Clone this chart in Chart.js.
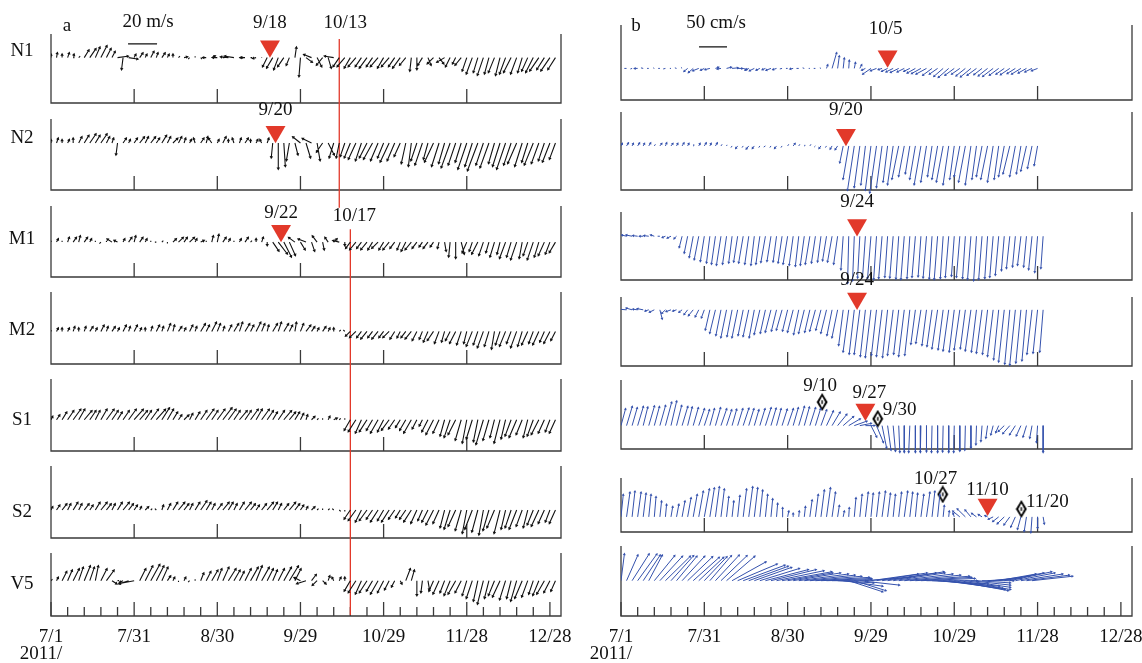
<!DOCTYPE html>
<html>
<head>
<meta charset="utf-8">
<title>Wind and current stick plots</title>
<script src="https://cdn.jsdelivr.net/npm/chart.js@4.4.1/dist/chart.umd.min.js"></script>
<style>
  html, body { margin: 0; padding: 0; background: #fff; }
  #page { position: relative; width: 1142px; height: 663px; overflow: hidden;
          font-family: 'Liberation Serif', 'Times New Roman', serif; color: #111; }
  #page canvas { position: absolute; top: 0; }
  .lbl { position: absolute; font-size: 19px; line-height: 1; white-space: nowrap;
         transform: translate(-50%, -50%); }
</style>
</head>
<body>
<div id="page">
  <canvas id="windChart"></canvas>
  <canvas id="curChart"></canvas>
</div>
<script>
// ---------- data ----------
const DAYS = 184;   // time axis: 7/1 .. 1/1
const STEP = 2;     // days between sticks
const tickDays = [0, 30, 60, 90, 120, 150, 180];
const tickLabels = ['7/1', '7/31', '8/30', '9/29', '10/29', '11/28', '12/28'];
const minorDays = [0, 6, 12, 18, 24, 30, 36, 42, 48, 54, 60, 66, 72, 78, 84, 90, 96, 102,
                   108, 114, 120, 126, 132, 138, 144, 150, 156, 162, 168, 174, 180];
const stations = ['N1', 'N2', 'M1', 'M2', 'S1', 'S2', 'V5'];

// wind (m/s), [u, v] every STEP days
const windN1 = [[0,2],[0.5,3],[0,2],[1,3],[0.5,2],[1,1],[3,5],[4,6],[3,7],[4,8],[3,6],[2,4],
  [7,1],[-1,-8],[6,-1],[1,2],[2,3],[1,2],[2,4],[1,3],[2,3],[1,2],[0,2],[1,1],
  [2,0.5],[-1,-1],[0,1],[1,-1],[-2,0],[2,1],[-3,0],[1,0],[-5,0.5],[-6,1],[2,0],[-3,0],[1,0],[-2,-0.5],[0,0.5],
  [-3,-6],[-4,-7],[-3,-8],[-4,-6],[-2,-5],[1,7],[-1,-13],[4,-3],[-5,2],[3,-6],[-4,-5],[2,-7],[-6,1],
  [-4,-6],[-5,-6],[-4,-7],[-5,-6],[-4,-6],[-5,-7],[-4,-6],[-5,-6],[-4,-7],[-5,-6],[-4,-6],[-5,-7],[-4,-5],
  [-1,-9],[0,-8],[-3,-5],[2,-5],[-4,-4],[3,-4],[-5,-3],[-3,-6],[-2,-4],[-4,-5],
  [-3,-9],[-4,-11],[-3,-10],[-4,-12],[-3,-11],[-4,-10],[-3,-12],[-4,-11],[-5,-10],[-4,-11],[-3,-10],
  [-4,-9],[-5,-10],[-6,-9],[-5,-8],[-6,-9],[-5,-8]];
const windN2 = [[0,2],[1,3],[0,2],[1,2],[0,3],[2,4],[3,5],[4,6],[3,5],[4,6],[2,4],[1,3],
  [-1,-8],[2,3],[1,2],[2,3],[3,4],[2,4],[3,4],[2,3],[3,5],[2,4],[3,3],[2,4],[1,3],
  [1,2],[-1,3],[2,3],[1,4],[-2,3],[1,2],[2,4],[0,2],[-1,3],[1,3],[2,3],[0,2],[1,2],[-1,2],[1,3],
  [-1,-10],[0,-18],[1,-16],[-2,-12],[2,-8],[-5,4],[3,-10],[-6,3],[2,-12],[-4,-6],[4,-8],[-3,-10],
  [-2,-10],[-3,-9],
  [-4,-10],[-5,-11],[-4,-12],[-5,-10],[-6,-11],[-5,-12],[-4,-10],[-6,-13],[-5,-12],[-4,-9],
  [-3,-14],[-2,-16],[-4,-12],[-5,-15],[-3,-11],[-6,-13],[-5,-16],[-4,-14],[-6,-17],[-5,-15],
  [-4,-13],[-6,-18],[-5,-16],[-7,-19],[-5,-15],[-6,-17],[-4,-14],[-5,-16],[-6,-18],[-5,-15],
  [-6,-14],[-5,-16],[-4,-13],[-6,-15],[-5,-14],[-4,-12],[-5,-13],[-4,-11]];
const windM1 = [[0,1],[1,2],[0,1],[1,3],[2,3],[1,4],[2,3],[1,2],[0,1],[-1,-1],
  [0,1],[-3,2],[-2,1],[1,2],[2,3],[1,4],[2,3],[1,2],[0,1],[-1,0],
  [1,1],[0,-1],[2,2],[3,3],[2,3],[3,3],[1,2],[2,1],[0,1],[1,4],
  [1,5],[2,3],[1,2],[0,1],[1,2],[2,3],[1,1],[0,2],[1,3],[0,-2],
  [4,-6],[6,-8],[5,-10],[4,-9],[-4,3],[3,-5],[-5,2],[2,-6],[-3,4],[1,-5],[-2,3],[2,2],[-4,1],[0,-2],
  [-3,-4],[-4,-5],[-3,-4],[-4,-5],[-3,-5],[-4,-4],[-3,-5],[-4,-5],[-3,-4],[-2,-5],
  [-3,-6],[-4,-5],[-3,-4],[-2,-3],[-3,-4],[-2,-3],[-1,-4],[1,-6],[-1,-10],[0,-11],
  [2,-8],[-3,-7],[-2,-6],[-4,-8],[-3,-9],[-2,-7],[-3,-10],[-2,-8],[-4,-11],[-3,-10],
  [-4,-12],[-2,-11],[-3,-9],[-4,-12],[-3,-10],[-4,-9],[-3,-8],[-4,-7]];
const windM2 = [[0,1],[1,2],[0,2],[1,2],[1,3],[0,2],[1,3],[2,3],[1,2],[2,4],
  [1,3],[2,3],[1,2],[2,4],[1,3],[2,4],[1,2],[0,2],[1,3],[2,4],
  [1,3],[2,5],[1,4],[2,3],[1,2],[2,4],[1,3],[3,5],[2,4],[3,6],
  [2,5],[1,3],[2,4],[3,5],[2,6],[3,5],[2,4],[3,6],[2,5],[1,4],
  [3,5],[2,6],[3,5],[2,4],[1,6],[2,5],[3,4],[2,3],[1,2],[2,3],
  [1,2],[0,2],[1,1],[-1,1],
  [-3,-3],[-4,-4],[-3,-4],[-4,-5],[-3,-4],[-4,-5],[-3,-4],[-4,-4],[-3,-5],[-2,-4],
  [-3,-4],[-4,-5],[-3,-6],[-2,-5],[-3,-7],[-4,-6],[-3,-8],[-2,-7],[-3,-6],[-4,-8],
  [-3,-9],[-2,-8],[-4,-10],[-3,-9],[-4,-11],[-3,-10],[-2,-12],[-3,-9],[-4,-10],[-3,-8],
  [-4,-11],[-3,-10],[-4,-9],[-3,-8],[-4,-9],[-3,-7],[-4,-8],[-3,-6]];
const windS1 = [[1,2],[2,3],[3,5],[4,6],[5,7],[4,7],[5,6],[4,6],[3,6],[4,7],
  [5,7],[4,6],[3,5],[4,6],[5,7],[6,7],[5,6],[4,6],[5,7],[6,7],
  [5,8],[4,7],[3,5],[2,3],[3,3],[2,4],[3,5],[4,6],[5,7],[4,6],
  [5,7],[6,8],[5,7],[4,6],[5,6],[4,6],[5,7],[4,7],[5,7],[4,6],
  [3,5],[4,6],[5,6],[4,5],[3,5],[2,4],[1,3],[2,2],[1,1],[0,1],
  [1,2],[2,1],[1,1],[0,1],
  [-4,-7],[-5,-8],[-4,-9],[-5,-8],[-4,-7],[-5,-9],[-4,-8],[-5,-7],[-4,-6],[-3,-5],
  [-4,-7],[-5,-9],[-3,-6],[-2,-4],[-4,-8],[-5,-10],[-4,-9],[-3,-11],[-4,-12],[-5,-10],
  [-4,-14],[-3,-16],[-4,-13],[-3,-15],[-5,-17],[-4,-14],[-3,-12],[-4,-16],[-3,-13],[-4,-11],
  [-5,-12],[-4,-10],[-3,-12],[-4,-11],[-5,-10],[-4,-9],[-3,-8],[-4,-9]];
const windS2 = [[1,2],[2,3],[3,4],[2,4],[3,5],[2,4],[3,4],[2,3],[3,5],[4,5],
  [3,4],[2,4],[3,5],[4,5],[3,4],[2,3],[1,2],[2,2],[1,1],[-1,1],
  [1,3],[2,4],[3,5],[4,5],[3,4],[2,4],[3,5],[4,6],[3,5],[2,4],
  [3,4],[4,5],[3,5],[2,4],[3,5],[4,5],[3,4],[2,3],[3,4],[4,5],
  [3,5],[2,4],[3,4],[4,5],[3,4],[2,3],[1,2],[2,2],[1,1],[0,1],
  [1,1],[-1,1],[1,-1],[0,-1],
  [-4,-6],[-5,-7],[-4,-8],[-5,-7],[-4,-6],[-5,-8],[-4,-7],[-5,-8],[-4,-6],[-3,-5],
  [-4,-6],[-5,-8],[-4,-9],[-3,-7],[-4,-8],[-5,-10],[-4,-9],[-3,-12],[-4,-13],[-5,-11],
  [-4,-14],[-3,-16],[-5,-13],[-4,-15],[-3,-17],[-4,-14],[-5,-12],[-4,-16],[-3,-13],[-4,-12],
  [-5,-13],[-4,-11],[-3,-12],[-4,-10],[-5,-11],[-4,-9],[-3,-8],[-4,-9]];
const windV5 = [[1,1],[1,2],[3,6],[3,7],[4,8],[3,9],[4,10],[3,9],[2,10],[4,8],[5,7],
  [3,-2],[1,0],[-2,-1],[-6,-2],[-10,-2],[4,8],[5,10],[6,11],[5,10],[4,9],[2,3],
  [1,2],[0,-1],[1,2],[-1,-1],[0,1],
  [2,5],[3,6],[4,7],[3,8],[4,9],[5,8],[4,7],[3,6],[4,8],[5,9],[4,10],
  [5,9],[4,8],[3,7],[4,8],[5,9],[6,10],[4,8],
  [-4,2],[-6,-2],[3,4],[-3,-3],[2,-2],[1,3],[-1,2],[1,2],[0,2],
  [-4,-7],[-5,-8],[-4,-9],[-5,-8],[-4,-7],[-5,-9],[-4,-8],[-3,-6],[-2,-4],[1,-2],
  [3,8],[2,7],[0,-10],[-1,-8],[1,-6],
  [-3,-7],[-4,-9],[-3,-8],[-4,-10],[-5,-9],[-4,-8],[-3,-10],[-4,-12],[-3,-14],[-4,-16],
  [-3,-12],[-4,-10],[-5,-11],[-4,-13],[-3,-12],[-4,-14],[-5,-12],[-4,-11],[-3,-9],[-4,-10],
  [-5,-9],[-4,-8],[-3,-7]];

// current (cm/s), [u, v] every STEP days
const curN1 = [[-3,1],[-4,0],[-3,-1],[-5,0],[-4,1],[-3,0],[-2,1],[-3,0],[-4,-1],[-2,0],[-3,1],[-2,2],
  [-6,-5],[-8,-7],[-10,-4],[-6,-3],[-8,-2],[5,2],[-6,-1],
  [8,2],[10,1],[8,0],[6,-2],[-6,-3],[-8,-4],[-6,-3],[-5,-2],[-8,-3],[-6,-2],[-4,-1],[-3,0],
  [-5,-1],[-4,0],[-3,1],[-2,0],[-3,0],[-2,1],
  [2,6],[8,28],[3,22],[2,18],[1,14],[2,10],[3,6],
  [-6,-3],[-14,-10],[-10,-4],[-6,-2],
  [-10,-5],[-12,-6],[-14,-7],[-12,-6],[-10,-5],[-14,-8],[-16,-9],[-18,-10],[-16,-12],[-14,-10],
  [-16,-14],[-18,-16],[-16,-12],[-14,-10],[-16,-13],[-18,-15],[-16,-12],[-14,-11],[-16,-13],[-18,-14],
  [-16,-12],[-14,-10],[-16,-11],[-14,-9],[-16,-10],[-14,-8],[-12,-6],[-10,-4]];
const curN2 = [[2,4],[3,5],[2,4],[3,5],[2,4],[3,5],[2,3],[3,4],[2,5],[3,4],
  [2,4],[3,5],[2,4],[1,3],[2,4],[3,5],[2,4],[3,5],[2,3],[1,2],
  [-2,-3],[-3,-4],[-2,-3],[-4,-5],[-3,-4],[-2,-3],[-3,-2],[-2,-3],[-3,-4],[-2,-3],
  [2,3],[3,4],[2,3],[1,2],[2,3],[-2,-2],[-3,-4],[-2,-3],[-3,-5],[-4,-6],
  [-6,-30],[-10,-60],[-12,-80],[-10,-75],[-8,-70],[-10,-80],[-12,-85],[-10,-75],[-8,-65],[-10,-70],
  [-12,-60],[-10,-55],[-8,-50],[-10,-60],[-12,-70],[-10,-65],[-8,-55],[-10,-60],[-12,-65],[-10,-70],
  [-8,-60],[-10,-55],[-12,-65],[-10,-70],[-8,-60],[-10,-55],[-12,-60],[-10,-65],[-8,-60],[-10,-55],
  [-12,-50],[-10,-55],[-8,-50],[-10,-45],[-8,-40],[-6,-35]];
const curM1 = [[-6,3],[-8,2],[-10,2],[-8,1],[-6,0],[-8,1],[-6,2],[-4,0],[-5,-2],[-6,-3],[-4,-4],
  [-5,-20],[-6,-30],[-7,-38],[-8,-42],[-7,-45],[-6,-48],[-7,-50],[-8,-52],[-7,-50],[-6,-48],
  [-7,-46],[-8,-48],[-7,-50],[-6,-52],[-7,-50],[-8,-47],[-7,-45],[-6,-46],[-7,-48],[-8,-50],
  [-7,-52],[-6,-54],[-7,-52],[-8,-50],[-7,-48],[-6,-46],[-7,-44],[-8,-46],[-7,-50],
  [-4,-60],[-2,-85],[-3,-80],[-4,-75],
  [-5,-74],[-6,-76],[-5,-78],[-6,-76],[-5,-74],[-6,-75],[-5,-77],[-6,-78],[-5,-76],[-6,-74],
  [-5,-73],[-6,-75],[-5,-77],[-6,-78],[-5,-76],[-6,-74],[-5,-72],[-6,-74],[-5,-76],[-6,-78],
  [-5,-80],[-6,-78],[-5,-76],[-6,-74],
  [-6,-70],[-5,-62],[-6,-58],[-5,-55],[-6,-52],[-5,-55],[-6,-60],[-5,-65],[-4,-58]];
const curM2 = [[-10,2],[-12,1],[-10,3],[-8,1],[-10,2],[-6,-2],[-8,-4],[4,-16],[-6,-6],[-8,-3],
  [-6,-2],[-5,-4],[-6,-8],[-8,-10],[-6,-12],[-5,-14],
  [-8,-36],[-10,-42],[-9,-46],[-10,-50],[-9,-48],[-10,-50],[-9,-46],[-10,-48],[-9,-50],[-10,-44],
  [-9,-42],[-10,-40],[-9,-38],[-10,-36],[-9,-38],[-10,-40],[-9,-44],[-10,-42],[-9,-40],[-10,-38],
  [-9,-36],[-10,-42],[-9,-46],[-10,-50],
  [-8,-64],[-10,-76],[-9,-80],
  [-10,-80],[-9,-84],[-10,-86],[-9,-82],[-10,-84],[-9,-86],[-10,-82],[-9,-80],[-10,-84],[-9,-82],
  [-8,-62],[-9,-60],[-8,-64],[-9,-66],
  [-10,-70],[-9,-72],[-10,-74],[-9,-76],[-10,-72],[-9,-70],[-10,-74],[-9,-76],[-10,-78],[-9,-80],[-10,-84],
  [-9,-90],[-10,-94],[-9,-98],[-10,-100],[-9,-96],[-8,-92],
  [-9,-80],[-8,-78],[-6,-76]];
const curS1 = [[8,30],[10,34],[9,32],[10,34],[8,33],[10,35],[9,34],[10,36],[11,42],[10,44],
  [9,36],[10,34],[8,33],[9,32],[10,30],[9,28],[8,30],[9,32],[10,30],[9,28],
  [8,29],[9,30],[10,31],[9,30],[8,28],[9,30],[10,32],[9,31],[8,30],[9,29],
  [10,30],[9,32],[10,34],[9,33],[10,32],[9,30],[10,28],[12,26],[14,24],[16,20],
  [18,16],[20,12],[22,8],[20,4],[16,0],
  [10,-20],[12,-30],[8,-40],[6,-44],[4,-46],[2,-48],[0,-48],[-2,-48],
  [0,-48],[-1,-48],[0,-47],[-1,-48],[0,-48],[-1,-47],[0,-48],[-1,-48],[0,-46],[-1,-44],
  [0,-40],[-1,-34],[-2,-28],[-3,-22],[-4,-16],[-5,-12],
  [-10,-10],[-12,-14],[-10,-16],[-8,-18],[-6,-20],[-4,-22],
  [-2,-30],[0,-48]];
const curS2 = [[4,40],[6,44],[5,46],[6,44],[5,42],[4,40],[3,36],
  [3,28],[2,22],[3,18],[4,22],[5,28],[6,34],[7,40],
  [8,46],[9,50],[8,52],[7,54],[6,50],
  [4,36],[3,28],[4,38],
  [6,50],[7,54],[6,52],[5,48],
  [4,40],[3,32],[2,24],[1,16],[2,10],
  [0,6],[1,10],[2,18],
  [4,30],[5,40],[6,48],[7,52],[6,44],
  [3,20],[2,10],[1,16],
  [3,34],[4,40],[5,44],[4,42],[5,44],[6,46],[5,42],[4,40],[5,44],[6,46],[5,44],[4,42],[5,40],[6,44],[5,46],[4,40],
  [2,20],[1,10],[-2,6],
  [-12,10],[-14,14],[-10,12],[-8,6],[-6,4],[-4,2],
  [-8,-4],[-10,-8],[-12,-12],[-10,-14],[-8,-18],[-6,-22],[-4,-26],[-2,-28],[0,-20],[2,-12]];
const curV5 = [[6,48],[20,46],[30,48],[34,48],[30,46],[24,46],
  [36,45],[40,44],[44,44],[40,45],[36,44],[40,44],[44,43],
  [46,42],[44,42],[40,43],[38,45],[42,46],[46,45],[50,44],
  [60,34],[70,30],[74,28],[70,26],[66,24],[70,22],[76,20],
  [80,20],[84,18],[88,16],[80,14],[84,14],[88,12],[90,10],
  [92,8],[96,6],[90,4],[80,2],[60,0],[64,-4],[70,-10],
  [60,-20],[56,-18],[70,-8],[80,6],[84,12],[90,14],
  [96,14],[100,16],[92,14],[96,12],[100,10],[106,8],[100,6],[96,4],
  [90,0],[100,-6],[110,-10],[106,-14],[100,-16],[96,-18],[90,-16],[80,-12],
  [70,-8],[60,-4],[56,0],[60,4],[64,8],[66,12],
  [70,14],[74,16],[70,14],[74,12],[76,10],[72,8]];

// events
const windMarks = [{row: 0, day: 79, label: '9/18'}, {row: 1, day: 81, label: '9/20'}, {row: 2, day: 83, label: '9/22'}];
const windLines = [{day: 104, label: '10/13'}, {day: 108, label: '10/17'}];
const curMarks = [{row: 0, day: 96, label: '10/5'}, {row: 1, day: 81, label: '9/20'}, {row: 2, day: 85, label: '9/24'},
                  {row: 3, day: 85, label: '9/24'}, {row: 4, day: 88, label: '9/27'}, {row: 5, day: 132, label: '11/10'}];
const curDiamonds = [{row: 4, day: 71, label: '9/10'}, {row: 4, day: 91, label: '9/30'},
                     {row: 5, day: 118, label: '10/27'}, {row: 5, day: 142, label: '11/20'}];

// ---------- layout (page pixels) ----------
const H = 663, AREA_BOTTOM = 616, PAD_L = 45, PAD_R = 30;
const RED = '#e2392a', INK = '#111', FRAME = '#3a3a3a', BLUE = '#3552ad';
const TRI_R = 11.5;
const layoutA = {left: 51, right: 561, ppu: 29 / 20, rows: [
  {top: 34, bottom: 103, base: 47}, {top: 119, bottom: 190, base: 134}, {top: 206, bottom: 277, base: 235},
  {top: 292, bottom: 364, base: 326}, {top: 379, bottom: 451, base: 416}, {top: 466, bottom: 538, base: 508},
  {top: 553, bottom: 616, base: 580}]};
const layoutB = {left: 621, right: 1132, ppu: 28 / 50, rows: [
  {top: 25, bottom: 100, base: 58}, {top: 112, bottom: 190, base: 137}, {top: 212, bottom: 280, base: 229},
  {top: 297, bottom: 366, base: 304}, {top: 380, bottom: 449, base: 422}, {top: 478, bottom: 532, base: 515},
  {top: 546, bottom: 616, base: 580}]};
const windLineSpan = [[28, 200], [222, 615]];
const windMarkLabelPos = [[0, 21], [0, 108], [0, 211]];         // [dx, y]
const windLineLabelPos = [[6, 21], [4, 214]];
const curMarkLabelPos = [[-2, 27], [0, 108], [0, 200], [0, 278], [4, 391], [0, 488]];
const curMarkApex = [57, 137, 229, 304, 417, 514];               // y of triangle tip
const curDiamondPos = [[4, 398, 2, 384], [4, 415, 26, 408], [-6, 492, -13, 477], [6, 507, 32, 500]]; // [dx, y, labelDx, labelY]
const scaleBarA = {day: 27.8, y: 33, value: 20, text: '20 m/s', tx: 148, ty: 20};
const scaleBarB = {day: 28.1, y: 36, value: 50, text: '50 cm/s', tx: 716, ty: 21};

// ---------- helpers ----------
const page = document.getElementById('page');
function addLabel(text, x, y) {
  const d = document.createElement('div');
  d.className = 'lbl';
  d.textContent = text;
  d.style.left = x + 'px';
  d.style.top = y + 'px';
  page.appendChild(d);
}
function dayX(lay, day) { return lay.left + day * (lay.right - lay.left) / DAYS; }
function px2val(lay, row, py) { return (lay.rows[row].base - py) / lay.ppu; }

function diamondImage() {
  const c = document.createElement('canvas');
  c.width = 12; c.height = 18;
  const g = c.getContext('2d');
  g.fillStyle = '#000';
  g.beginPath(); g.moveTo(6, 0); g.lineTo(11.5, 9); g.lineTo(6, 18); g.lineTo(0.5, 9); g.closePath(); g.fill();
  g.fillStyle = '#fff';
  g.beginPath(); g.moveTo(6, 3.2); g.lineTo(9, 9); g.lineTo(6, 14.8); g.lineTo(3, 9); g.closePath(); g.fill();
  g.fillStyle = '#000';
  g.fillRect(5.3, 7.2, 1.4, 3.6);
  return c;
}

function stickDataset(series, k, ppu, color, axis, headR, width) {
  const data = [];
  series.forEach(([u, v], i) => {
    const t = i * STEP;
    data.push({x: t, y: 0},
              {x: t + u * k, y: v, head: Math.hypot(u, v) * ppu > 2.5, rot: Math.atan2(u, v) * 180 / Math.PI},
              {x: t, y: null});
  });
  return {
    type: 'line', data, yAxisID: axis, borderColor: color, borderWidth: width, spanGaps: false, tension: 0,
    pointStyle: 'triangle', pointBackgroundColor: color, pointBorderWidth: 0, pointHoverRadius: 0,
    pointRadius: c => (c.raw && c.raw.head) ? headR : 0,
    pointRotation: c => (c.raw && c.raw.rot) || 0
  };
}

function framePlugin(lay) {
  return {
    id: 'frames',
    beforeDatasetsDraw(chart) {
      const x = chart.scales.x, ctx = chart.ctx;
      const x0 = x.getPixelForValue(0), x1 = x.getPixelForValue(DAYS);
      ctx.save();
      ctx.strokeStyle = FRAME;
      ctx.lineWidth = 1.3;
      lay.rows.forEach((r, ri) => {
        const last = ri === lay.rows.length - 1;
        ctx.beginPath();
        ctx.moveTo(x0, r.top); ctx.lineTo(x0, r.bottom); ctx.lineTo(x1, r.bottom); ctx.lineTo(x1, r.top);
        ctx.stroke();
        const marks = last ? x.ticks.map(t => t.value) : tickDays.slice(1, -1);
        marks.forEach(v => {
          const p = x.getPixelForValue(v);
          const len = tickDays.includes(v) ? 14 : 9;
          ctx.beginPath(); ctx.moveTo(p, r.bottom); ctx.lineTo(p, r.bottom - len); ctx.stroke();
        });
      });
      ctx.restore();
    }
  };
}

function buildColumn(canvasId, lay, seriesList, color, headR, width, extra) {
  const canvas = document.getElementById(canvasId);
  const cw = (lay.right - lay.left) + PAD_L + PAD_R;
  canvas.width = cw; canvas.height = H;
  canvas.style.left = (lay.left - PAD_L) + 'px';
  canvas.style.width = cw + 'px';
  canvas.style.height = H + 'px';
  const ppd = (lay.right - lay.left) / DAYS;
  const k = lay.ppu / ppd;   // days per unit of u, keeps stick direction true

  const scales = {
    x: {
      type: 'linear', min: 0, max: DAYS, bounds: 'data', position: 'bottom',
      afterBuildTicks: s => { s.ticks = minorDays.map(v => ({value: v})); },
      afterFit: s => { s.height = H - AREA_BOTTOM; },
      grid: {display: false}, border: {display: false},
      ticks: {
        autoSkip: false, maxRotation: 0, minRotation: 0, padding: 2, color: INK,
        font: {family: "'Liberation Serif', serif", size: 19},
        callback: v => { const i = tickDays.indexOf(Math.round(v)); return i < 0 ? '' : tickLabels[i]; }
      }
    }
  };
  const datasets = [];
  lay.rows.forEach((r, i) => {
    scales['y' + i] = {type: 'linear', display: false,
                       min: -(AREA_BOTTOM - r.base) / lay.ppu, max: r.base / lay.ppu};
    datasets.push(stickDataset(seriesList[i], k, lay.ppu, color, 'y' + i, headR, width));
  });
  extra(datasets, k);

  return new Chart(canvas, {
    data: {datasets},
    options: {
      responsive: false, animation: false, devicePixelRatio: 1,
      layout: {padding: {left: PAD_L, right: PAD_R, top: 0, bottom: 0}},
      plugins: {legend: {display: false}, tooltip: {enabled: false}},
      events: [],
      scales
    },
    plugins: [framePlugin(lay)]
  });
}

function triangleDataset(lay, row, day, apexY) {
  const centre = px2val(lay, row, apexY - TRI_R);
  return {type: 'scatter', data: [{x: day, y: centre}], yAxisID: 'y' + row,
          pointStyle: 'triangle', pointRotation: 180, pointRadius: TRI_R,
          pointBackgroundColor: RED, pointBorderWidth: 0, pointHoverRadius: TRI_R};
}
function scaleBarDataset(lay, bar, k) {
  const y = px2val(lay, 0, bar.y);
  return {type: 'line', data: [{x: bar.day, y}, {x: bar.day + bar.value * k, y}], yAxisID: 'y0',
          borderColor: INK, borderWidth: 1.4, pointRadius: 0};
}

// ---------- panel a: wind ----------
buildColumn('windChart', layoutA, [windN1, windN2, windM1, windM2, windS1, windS2, windV5], INK, 2, 1.1, (ds, k) => {
  windLines.forEach((ev, j) => {
    ds.push({type: 'line', yAxisID: 'y0', borderColor: RED, borderWidth: 1.3, pointRadius: 0,
             data: [{x: ev.day, y: px2val(layoutA, 0, windLineSpan[j][0])},
                    {x: ev.day, y: px2val(layoutA, 0, windLineSpan[j][1])}]});
  });
  windMarks.forEach(m => ds.push(triangleDataset(layoutA, m.row, m.day, layoutA.rows[m.row].base)));
  ds.push(scaleBarDataset(layoutA, scaleBarA, k));
});

// ---------- panel b: current ----------
const diamond = diamondImage();
buildColumn('curChart', layoutB, [curN1, curN2, curM1, curM2, curS1, curS2, curV5], BLUE, 1.7, 1, (ds, k) => {
  curMarks.forEach((m, j) => ds.push(triangleDataset(layoutB, m.row, m.day, curMarkApex[j])));
  curDiamonds.forEach((m, j) => {
    const ppd = (layoutB.right - layoutB.left) / DAYS;
    ds.push({type: 'scatter', yAxisID: 'y' + m.row, pointStyle: diamond, pointRadius: 8, pointHoverRadius: 8,
             data: [{x: m.day + curDiamondPos[j][0] / ppd, y: px2val(layoutB, m.row, curDiamondPos[j][1])}]});
  });
  ds.push(scaleBarDataset(layoutB, scaleBarB, k));
});

// ---------- text ----------
stations.forEach((s, i) => addLabel(s, 22, layoutA.rows[i].base + 2));
addLabel('a', 67, 24);
addLabel('b', 636, 24);
addLabel(scaleBarA.text, scaleBarA.tx, scaleBarA.ty);
addLabel(scaleBarB.text, scaleBarB.tx, scaleBarB.ty);
windMarks.forEach((m, j) => addLabel(m.label, dayX(layoutA, m.day) + windMarkLabelPos[j][0], windMarkLabelPos[j][1]));
windLines.forEach((ev, j) => addLabel(ev.label, dayX(layoutA, ev.day) + windLineLabelPos[j][0], windLineLabelPos[j][1]));
curMarks.forEach((m, j) => addLabel(m.label, dayX(layoutB, m.day) + curMarkLabelPos[j][0], curMarkLabelPos[j][1]));
curDiamonds.forEach((m, j) => addLabel(m.label, dayX(layoutB, m.day) + curDiamondPos[j][2], curDiamondPos[j][3]));
addLabel('2011/', 41, 652);
addLabel('2011/', 611, 652);
</script>
</body>
</html>
